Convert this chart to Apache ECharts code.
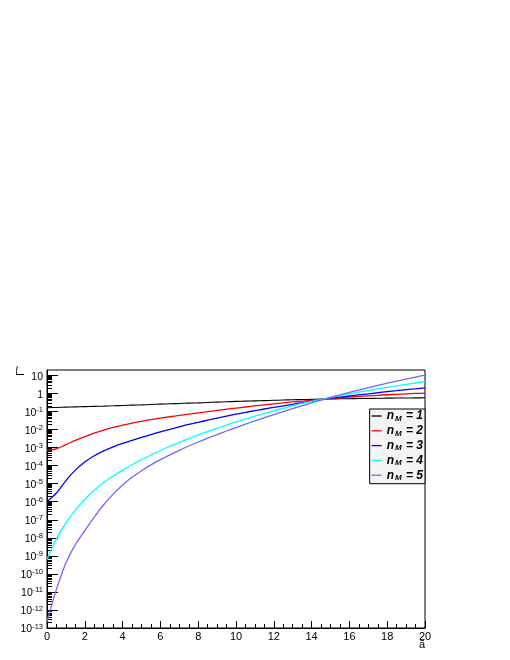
<!DOCTYPE html>
<html><head><meta charset="utf-8">
<script src="https://cdn.jsdelivr.net/npm/echarts@6/dist/echarts.min.js"></script>
<style>html,body{margin:0;padding:0;background:#fff}#c{width:510px;height:660px}</style>
</head><body><div id="c"></div>
<script>
// x values (ã), step 0.5
const aValues = [0,0.5,1,1.5,2,2.5,3,3.5,4,4.5,5,5.5,6,6.5,7,7.5,8,8.5,9,9.5,10,10.5,11,11.5,12,12.5,13,13.5,14,14.5,15,15.5,16,16.5,17,17.5,18,18.5,19,19.5,20];
// Γ̃ values for each n_M
const gammaN1 = [0.162,0.168,0.174,0.180,0.186,0.193,0.200,0.2075,0.216,0.225,0.234,0.245,0.257,0.268,0.279,0.290,0.302,0.316,0.331,0.347,0.363,0.376,0.389,0.403,0.417,0.432,0.447,0.460,0.473,0.484,0.495,0.505,0.513,0.522,0.531,0.541,0.550,0.556,0.562,0.569,0.575];
const gammaN2 = [7.24e-4,8.5e-4,1.45e-3,2.51e-3,4.07e-3,6.31e-3,9.33e-3,1.32e-2,1.78e-2,2.29e-2,2.88e-2,3.55e-2,4.27e-2,5.13e-2,6.03e-2,7.08e-2,8.32e-2,9.77e-2,0.115,0.135,0.155,0.178,0.204,0.232,0.263,0.299,0.339,0.380,0.427,0.479,0.525,0.575,0.631,0.684,0.741,0.794,0.851,0.902,0.955,1.0,1.047];
const gammaN3 = [1.0e-6,3.02e-6,1.48e-5,5.62e-5,1.58e-4,3.55e-4,6.61e-4,1.10e-3,1.70e-3,2.51e-3,3.63e-3,5.25e-3,7.41e-3,1.02e-2,1.41e-2,1.91e-2,2.51e-2,3.31e-2,4.27e-2,5.50e-2,7.08e-2,8.91e-2,0.112,0.138,0.170,0.207,0.251,0.309,0.380,0.457,0.537,0.631,0.724,0.832,0.955,1.096,1.259,1.429,1.622,1.82,2.042];
const gammaN4 = [6.31e-10,8.91e-9,6.76e-8,3.31e-7,1.32e-6,4.27e-6,1.17e-5,2.69e-5,5.62e-5,1.12e-4,2.14e-4,3.89e-4,6.92e-4,1.17e-3,1.95e-3,3.16e-3,5.01e-3,7.76e-3,1.17e-2,1.78e-2,2.63e-2,3.80e-2,5.50e-2,7.76e-2,0.110,0.151,0.209,0.279,0.363,0.468,0.596,0.759,0.955,1.189,1.462,1.799,2.188,2.63,3.162,3.802,4.571];
const gammaN5 = [2.29e-13,1.38e-11,3.98e-10,4.17e-9,2.51e-8,1.41e-7,6.76e-7,2.63e-6,8.51e-6,2.24e-5,5.25e-5,1.10e-4,2.14e-4,3.98e-4,7.08e-4,1.23e-3,2.04e-3,3.31e-3,5.25e-3,8.32e-3,1.29e-2,2.0e-2,3.02e-2,4.57e-2,6.76e-2,0.1,0.145,0.209,0.302,0.427,0.603,0.832,1.148,1.549,2.089,2.818,3.715,4.898,6.31,8.128,10.47];
const seriesLabels = ['1','2','3','4','5'];
const seriesColors = ['#000000','#ff0000','#0000ff','#00ffff','#6c6cf0'];
const yTickExponents = [-13,-12,-11,-10,-9,-8,-7,-6,-5,-4,-3,-2,-1,0,1];
const yMinorMultipliers = [2,3,4,5,6,7,8,9];
const yRange = [1e-13, 20];
const xRange = [0, 20];

const allGamma = [gammaN1,gammaN2,gammaN3,gammaN4,gammaN5];
const FONT = 'Liberation Sans, Arial, Helvetica, sans-serif';

const yMinorTicks = [];
yTickExponents.forEach(e => yMinorMultipliers.forEach(m => {
  const v = Math.log10(m) + e;
  if (v < Math.log10(yRange[1])) yMinorTicks.push(v);
}));

const series = allGamma.map((vals, i) => ({
  name: 'n_M = ' + seriesLabels[i],
  type: 'line',
  xAxisIndex: 0, yAxisIndex: 0,
  symbol: 'none',
  smooth: 0.3,
  lineStyle: { color: seriesColors[i], width: i === 0 ? 1.1 : 1.3 },
  itemStyle: { color: seriesColors[i] },
  data: aValues.map((a, j) => [a, Math.log10(vals[j])])
}));

const chart = echarts.init(document.getElementById('c'), null, { renderer: 'canvas' });
const yMin = Math.log10(yRange[0]), yMax = Math.log10(yRange[1]);
chart.setOption({
  animation: false,
  backgroundColor: '#fff',
  grid: { left: 47, right: 85, top: 370, bottom: 32, show: true, borderColor: '#000', borderWidth: 1, backgroundColor: 'transparent' },
  xAxis: {
    type: 'value', min: xRange[0], max: xRange[1], interval: 2,
    axisLine: { show: true, onZero: false, lineStyle: { color: '#000', width: 1 } },
    axisTick: { show: true, inside: true, length: 7, lineStyle: { color: '#000' } },
    minorTick: { show: true, splitNumber: 4, length: 4, lineStyle: { color: '#000' } },
    splitLine: { show: false },
    axisLabel: { color: '#000', fontSize: 11, fontFamily: FONT, margin: 3 }
  },
  yAxis: [{
    type: 'value', min: yMin, max: yMax,
    axisLine: { show: true, onZero: false, lineStyle: { color: '#000', width: 1 } },
    axisTick: { show: true, inside: true, length: 11, lineStyle: { color: '#000' }, customValues: yTickExponents },
    splitLine: { show: false },
    axisLabel: {
      customValues: yTickExponents,
      margin: 4,
      color: '#000',
      fontFamily: FONT,
      formatter: v => {
        const e = Math.round(v);
        if (e === 0) return '{b|1}';
        if (e === 1) return '{b|10}';
        return '{b|10}{e|' + e + '}';
      },
      rich: {
        b: { fontSize: 10.5, fontFamily: FONT, color: '#000', padding: [3, 0, 0, 0], lineHeight: 11 },
        e: { fontSize: 7.5, fontFamily: FONT, color: '#000', verticalAlign: 'top', lineHeight: 8 }
      }
    }
  }, {
    type: 'value', min: yMin, max: yMax, position: 'left', offset: 0,
    axisLine: { show: false },
    axisTick: { show: true, inside: true, length: 5, lineStyle: { color: '#000' }, customValues: yMinorTicks },
    axisLabel: { show: false },
    splitLine: { show: false }
  }],
  legend: {
    orient: 'vertical',
    right: 85, top: 409,
    backgroundColor: '#f4f4f4',
    borderColor: '#000', borderWidth: 1,
    padding: [1, 2, 2, 2],
    itemGap: 2.3,
    icon: 'rect',
    itemWidth: 10, itemHeight: 1.3,
    data: series.map(s => s.name),
    formatter: name => '{n|n}{m|M}{n| = ' + name.split('= ')[1] + '}',
    textStyle: {
      color: '#000',
      rich: {
        n: { fontSize: 12, fontWeight: 'bold', fontStyle: 'italic', fontFamily: FONT, color: '#000', lineHeight: 13 },
        m: { fontSize: 8, fontWeight: 'bold', fontStyle: 'italic', fontFamily: FONT, color: '#000', verticalAlign: 'bottom', padding: [4, 1, 0, 1], lineHeight: 9 }
      }
    }
  },
  graphic: [
    { type: 'text', x: 21, y: 370, rotation: Math.PI / 2,
      style: { text: '\u0393\u0303', font: '11px ' + FONT, fill: '#000', align: 'right', verticalAlign: 'middle' } },
    { type: 'text', x: 425, y: 639,
      style: { text: '\u00e3', font: '11px ' + FONT, fill: '#000', align: 'right', verticalAlign: 'top' } }
  ],
  series: series
});
</script>
</body></html>
